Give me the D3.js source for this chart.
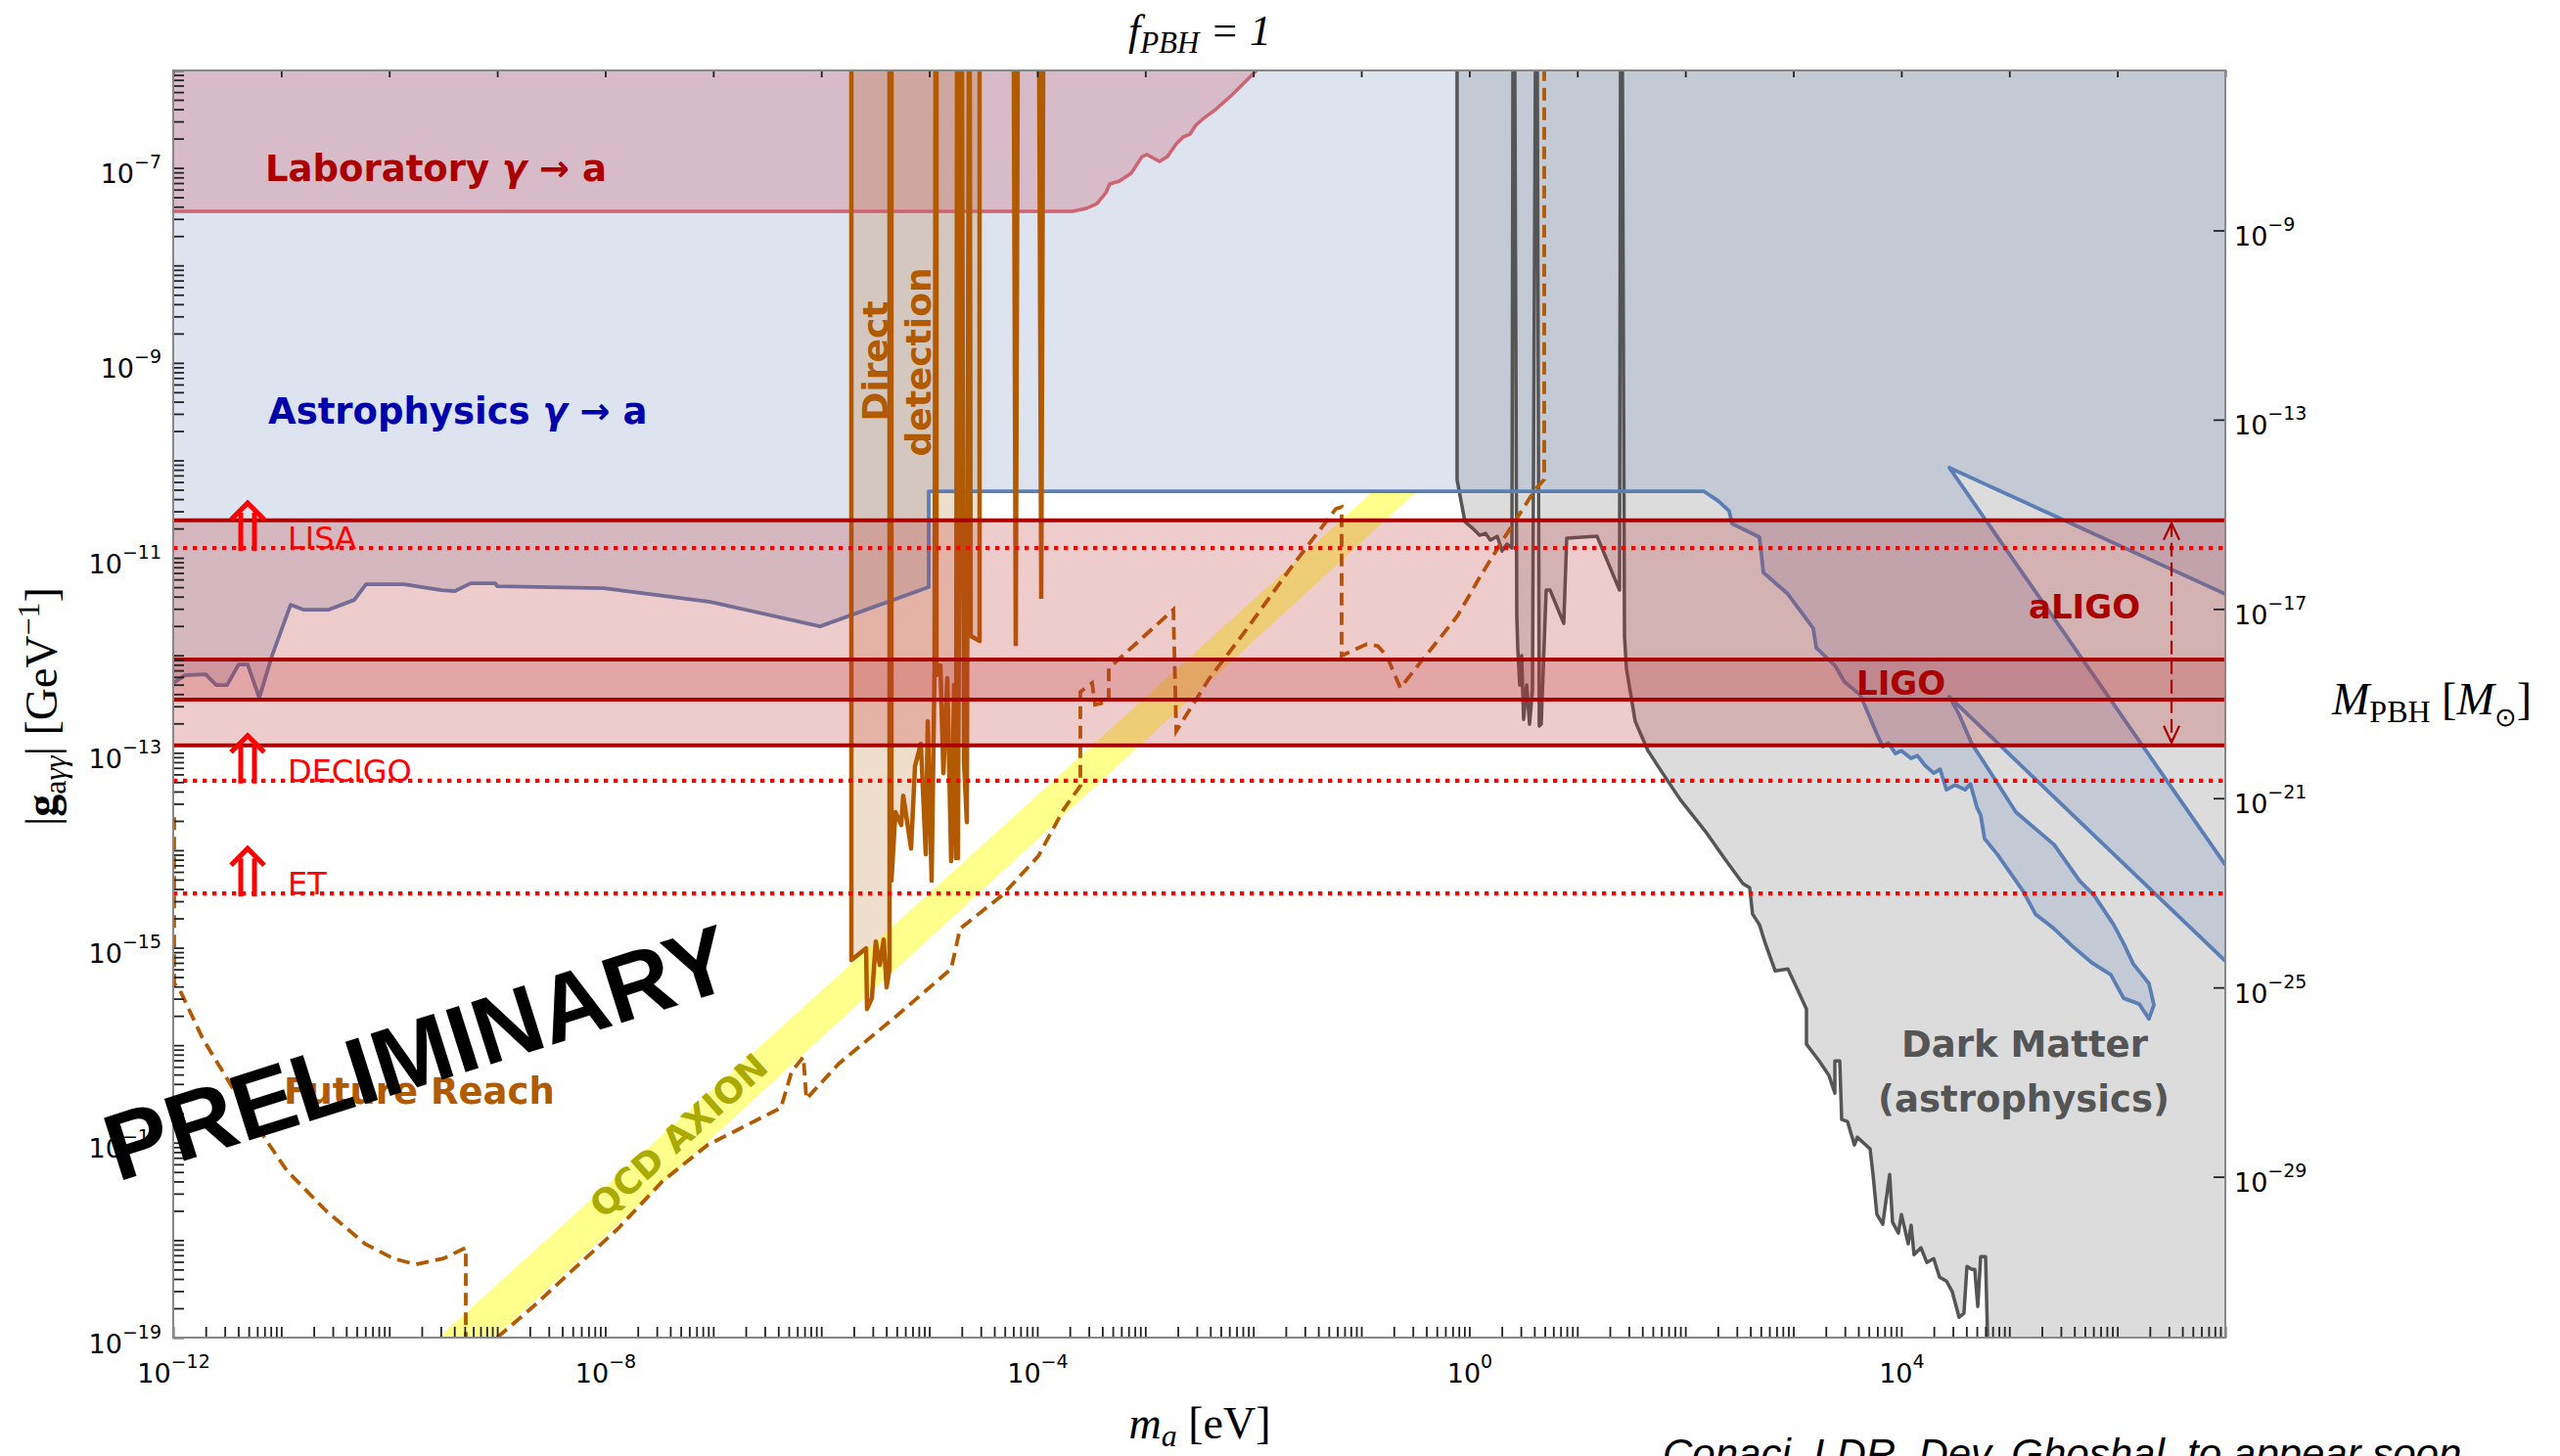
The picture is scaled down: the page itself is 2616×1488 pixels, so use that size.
<!DOCTYPE html>
<html>
<head>
<meta charset="utf-8">
<script src="https://cdn.jsdelivr.net/npm/d3@7"></script>
<style>
  html, body { margin: 0; padding: 0; background: #fff; }
  svg { display: block; }
</style>
</head>
<body>
<svg id="chart" width="2616" height="1488"></svg>
<script>
// All curve points are [log10(m_a / eV), log10(|g_ayy| / GeV^-1)].

// Astrophysical photon-axion bound (excluded above), left to right
const astroEdge = [
  [-12,-12.285],[-11.891,-12.205],[-11.701,-12.195],[-11.601,-12.305],[-11.502,-12.305],
  [-11.393,-12.094],[-11.311,-12.094],[-11.203,-12.436],[-11.085,-12.004],[-10.913,-11.482],
  [-10.795,-11.532],[-10.559,-11.532],[-10.324,-11.432],[-10.215,-11.271],[-9.862,-11.271],
  [-9.517,-11.331],[-9.391,-11.341],[-9.246,-11.261],[-9.019,-11.261],[-9.001,-11.291],
  [-8.013,-11.311],[-7.026,-11.452],[-6.011,-11.703],[-5.005,-11.301],[-5.005,-10.317],
  [2.171,-10.317],[2.307,-10.418],[2.406,-10.518],[2.433,-10.649],[2.687,-10.789],
  [2.723,-11.151],[2.950,-11.371],[3.185,-11.723],[3.213,-11.924],[3.385,-12.104],
  [3.475,-12.275],[3.620,-12.406],[3.774,-12.807],[3.829,-12.938],[3.880,-12.900],
  [3.946,-13.008],[4.000,-12.980],[4.091,-13.058],[4.150,-13.030],[4.220,-13.130],
  [4.300,-13.209],[4.360,-13.170],[4.418,-13.380],[4.500,-13.330],[4.590,-13.380],
  [4.640,-13.320],[4.700,-13.560],[4.735,-13.641],[4.771,-13.882],[4.889,-14.042],
  [5.124,-14.414],[5.242,-14.655],[5.414,-14.805],[5.586,-14.986],[5.768,-15.157],
  [5.940,-15.277],[6.058,-15.518],[6.203,-15.578],[6.293,-15.729],[6.339,-15.588],
  [6.293,-15.367],[6.148,-15.167],[6.058,-14.956],[5.967,-14.765],[5.786,-14.464],
  [5.650,-14.313],[5.414,-13.942],[5.061,-13.610],[4.771,-13.108],[4.653,-12.908],
  [4.535,-12.606],[4.445,-12.426],[7,-15.137]
];
// Allowed wedge inside the astrophysical bound: apex, then its two edges at the right border
const astroNotch = [[4.445,-10.076],[7,-11.371],[7,-14.15]];

// Laboratory bound (excluded above)
const labEdge = [
  [-12,-7.446],[-3.673,-7.446],[-3.547,-7.416],[-3.447,-7.365],[-3.365,-7.255],[-3.329,-7.165],
  [-3.239,-7.135],[-3.130,-7.054],[-3.030,-6.884],[-2.985,-6.863],[-2.867,-6.934],
  [-2.795,-6.884],[-2.713,-6.753],[-2.650,-6.683],[-2.586,-6.653],[-2.532,-6.562],
  [-2.450,-6.482],[-2.351,-6.402],[-2.197,-6.251],[-1.970,-6.0]
];

// Haloscope (direct detection) exclusion, closed along the top border
const ddEdge = [
  [-5.721,-6],[-5.721,-15.127],[-5.630,-15.046],[-5.585,-15.006],[-5.576,-15.629],
  [-5.531,-15.518],[-5.495,-14.936],[-5.458,-15.177],[-5.422,-14.916],[-5.395,-15.408],
  [-5.368,-15.217],[-5.368,-6],[-5.350,-6],[-5.350,-14.313],[-5.313,-13.610],
  [-5.259,-13.741],[-5.241,-13.440],[-5.168,-13.982],[-5.132,-13.139],[-5.078,-12.908],
  [-5.032,-14.042],[-5.014,-12.677],[-4.978,-14.313],[-4.951,-12.135],[-4.942,-6],
  [-4.933,-6],[-4.933,-12.205],[-4.897,-12.104],[-4.869,-13.209],[-4.833,-12.235],
  [-4.797,-14.112],[-4.770,-12.305],[-4.752,-14.082],[-4.743,-6],[-4.734,-6],
  [-4.734,-14.082],[-4.706,-6],[-4.697,-6],[-4.679,-13.078],[-4.652,-13.711],
  [-4.634,-6],[-4.625,-6],[-4.616,-11.803],[-4.534,-11.853],[-4.534,-6]
];
// Narrow haloscope exclusions further right
const ddSpikes = [
  [[-4.217,-6],[-4.199,-11.904],[-4.181,-6]],
  [[-3.982,-6],[-3.963,-11.422],[-3.945,-6]]
];

// Astrophysical dark-matter bound (excluded above/right)
const dmEdge = [
  [-0.113,-6],[-0.113,-10.197],[-0.085,-10.367],[-0.040,-10.629],[0.032,-10.699],
  [0.096,-10.769],[0.150,-10.749],[0.195,-10.819],[0.259,-10.779],[0.304,-10.930],
  [0.349,-10.859],[0.395,-10.900],[0.404,-6],[0.422,-6],[0.440,-11.602],[0.449,-11.934],
  [0.467,-12.305],[0.485,-12.004],[0.503,-12.657],[0.531,-12.305],[0.558,-12.707],
  [0.585,-12.355],[0.612,-6],[0.630,-6],[0.648,-12.727],[0.666,-12.707],[0.712,-11.331],
  [0.748,-11.331],[0.875,-11.673],[0.902,-10.799],[1.183,-10.779],[1.391,-11.331],
  [1.400,-6],[1.418,-6],[1.437,-11.803],[1.455,-12.135],[1.536,-12.677],[1.654,-12.978],
  [1.772,-13.179],[1.953,-13.480],[2.189,-13.811],[2.361,-14.082],[2.533,-14.343],
  [2.596,-14.384],[2.623,-14.655],[2.687,-14.765],[2.741,-14.956],[2.832,-15.237],
  [2.950,-15.217],[3.122,-15.629],[3.122,-15.990],[3.240,-16.161],[3.330,-16.311],
  [3.385,-16.492],[3.385,-16.161],[3.430,-16.161],[3.448,-16.763],[3.502,-16.783],
  [3.566,-17.024],[3.593,-16.944],[3.711,-17.064],[3.738,-17.325],[3.774,-17.737],
  [3.828,-17.837],[3.892,-17.325],[3.919,-17.817],[3.973,-17.928],[4.001,-17.737],
  [4.064,-18.038],[4.091,-17.847],[4.118,-18.149],[4.182,-18.078],[4.236,-18.229],
  [4.300,-18.189],[4.354,-18.380],[4.418,-18.420],[4.472,-18.530],[4.535,-18.791],
  [4.580,-18.751],[4.608,-18.269],[4.653,-18.299],[4.680,-18.299],[4.708,-18.681],
  [4.735,-18.169],[4.780,-18.169],[4.798,-18.982],[4.798,-19.5]
];

// Projected sensitivity of upcoming searches (two branches)
const futureLeft = [
  [-11.991,-13.661],[-11.991,-15.367],[-11.937,-15.438],[-11.728,-15.930],[-11.420,-16.492],
  [-11.157,-16.944],[-10.949,-17.285],[-10.587,-17.697],[-10.224,-18.038],[-9.961,-18.189],
  [-9.753,-18.249],[-9.499,-18.189],[-9.291,-18.078],[-9.291,-19]
];
const futureRight = [
  [-9.001,-19],[-8.666,-18.681],[-8.294,-18.299],[-7.887,-17.888],[-7.470,-17.396],
  [-7.053,-17.024],[-6.373,-16.643],[-6.274,-16.271],[-6.165,-16.120],[-6.138,-16.552],
  [-5.839,-16.191],[-5.313,-15.709],[-4.797,-15.217],[-4.715,-14.805],[-4.326,-14.464],
  [-3.991,-14.062],[-3.755,-13.580],[-3.601,-13.339],[-3.601,-12.376],[-3.492,-12.285],
  [-3.465,-12.506],[-3.338,-12.476],[-3.338,-12.135],[-3.239,-12.034],[-2.740,-11.532],
  [-2.713,-12.777],[-2.405,-12.235],[-2.088,-11.773],[-1.671,-11.131],[-1.236,-10.498],
  [-1.182,-10.478],[-1.182,-12.004],[-0.946,-11.884],[-0.847,-11.904],[-0.765,-12.004],
  [-0.638,-12.335],[-0.475,-12.104],[-0.113,-11.602],[0.096,-11.201],[0.304,-10.829],
  [0.612,-10.297],[0.694,-10.197],[0.694,-6]
];

// QCD axion band corners
const qcdBand = [[-9.545,-19],[-0.892,-10.317],[-0.484,-10.317],[-9.028,-19]];

// Gravitational-wave reach on |g| (log10), bands and future detectors
const bandNames  = ['aLIGO', 'LIGO'];
const bandTop    = [-10.615, -12.044];
const bandBottom = [-12.925, -12.456];
const detectorNames = ['LISA', 'DECIGO', 'ET'];
const detectorReach = [-10.900, -13.286, -14.444];

// Tick decades
const gLabelExps = [-19, -17, -15, -13, -11, -9, -7];
const mLabelExps = [-12, -8, -4, 0, 4];
const pbhLabelExps = [-29, -25, -21, -17, -13, -9];

// ---------------------------------------------------------------
const svg = d3.select('#chart');
const P = { x0: 177, x1: 2274, y0: 72, y1: 1367 };

const x = d3.scaleLog().domain([1e-12, 1e7]).range([P.x0, P.x1]);
const y = d3.scaleLog().domain([1e-19, 1e-6]).range([P.y1, P.y0]);
const yM = d3.scaleLog().domain([Math.pow(10, -32.40), Math.pow(10, -5.62)]).range([P.y1, P.y0]);

const px = d => x(Math.pow(10, d[0]));
const py = d => y(Math.pow(10, d[1]));
const line = d3.line().x(px).y(py);

svg.append('defs').append('clipPath').attr('id', 'plotClip')
  .append('rect').attr('x', P.x0).attr('y', P.y0)
  .attr('width', P.x1 - P.x0).attr('height', P.y1 - P.y0);

const g = svg.append('g').attr('clip-path', 'url(#plotClip)');

// Dark-matter region
g.append('path')
  .attr('d', line(dmEdge.concat([[7.2, -19.5], [7.2, -5.8], [-0.113, -5.8]])) + 'Z')
  .attr('fill', '#dcdcdc');

// Astrophysics region with its allowed wedge
g.append('path')
  .attr('d', line(astroEdge.concat([[7.2, -15.137], [7.2, -5.8], [-12.2, -5.8], [-12.2, -12.285]])) + 'Z' +
             line(astroNotch) + 'Z')
  .attr('fill', 'rgb(123,146,193)').attr('fill-opacity', 0.26)
  .attr('fill-rule', 'evenodd');

// Laboratory region
g.append('path')
  .attr('d', line(labEdge.concat([[-1.9, -5.8], [-12.2, -5.8], [-12.2, -7.446]])) + 'Z')
  .attr('fill', 'rgb(201,97,109)').attr('fill-opacity', 0.3);

// Direct detection region
g.append('path')
  .attr('d', line(ddEdge.concat([[-4.534, -5.8], [-5.721, -5.8]])) + 'Z')
  .attr('fill', 'rgb(178,90,0)').attr('fill-opacity', 0.2);

// QCD axion band
g.append('path').attr('d', line(qcdBand) + 'Z')
  .attr('fill', '#ffff00').attr('fill-opacity', 0.45);

// Boundary curves
g.append('path').attr('d', line(dmEdge))
  .attr('fill', 'none').attr('stroke', '#555').attr('stroke-width', 3.5).attr('stroke-linejoin', 'round');
g.append('path').attr('d', line(astroEdge))
  .attr('fill', 'none').attr('stroke', 'rgb(91,127,181)').attr('stroke-width', 3.8).attr('stroke-linejoin', 'round');
g.append('path').attr('d', line([astroNotch[1], astroNotch[0], astroNotch[2]]))
  .attr('fill', 'none').attr('stroke', 'rgb(91,127,181)').attr('stroke-width', 3.8).attr('stroke-linejoin', 'round');
g.append('path').attr('d', line(labEdge))
  .attr('fill', 'none').attr('stroke', 'rgb(205,100,115)').attr('stroke-width', 3.5);
g.append('path').attr('d', line(ddEdge))
  .attr('fill', 'none').attr('stroke', 'rgb(178,90,0)').attr('stroke-width', 4.5).attr('stroke-linejoin', 'round');
ddSpikes.forEach(s => g.append('path').attr('d', line(s))
  .attr('fill', 'none').attr('stroke', 'rgb(178,90,0)').attr('stroke-width', 4.5));

[futureLeft, futureRight].forEach(c => g.append('path').attr('d', line(c))
  .attr('fill', 'none').attr('stroke', 'rgb(178,90,0)').attr('stroke-width', 3.8)
  .attr('stroke-dasharray', '13,7'));

// Gravitational-wave bands
bandNames.forEach((n, i) => {
  const t = y(Math.pow(10, bandTop[i])), b = y(Math.pow(10, bandBottom[i]));
  g.append('rect').attr('x', P.x0).attr('y', t).attr('width', P.x1 - P.x0).attr('height', b - t)
    .attr('fill', 'rgb(190,50,50)').attr('fill-opacity', 0.25);
  [t, b].forEach(v => g.append('line').attr('x1', P.x0).attr('x2', P.x1).attr('y1', v).attr('y2', v)
    .attr('stroke', '#aa0000').attr('stroke-width', 4));
});

// Future detector reach
detectorNames.forEach((n, i) => {
  const v = y(Math.pow(10, detectorReach[i]));
  g.append('line').attr('x1', P.x0).attr('x2', P.x1).attr('y1', v).attr('y2', v)
    .attr('stroke', '#ff0000').attr('stroke-width', 4.2).attr('stroke-dasharray', '4.3,5.7');
  const cx = x(Math.pow(10, -11.311));
  const arrow = svg.append('g').attr('stroke', '#ff0000').attr('fill', 'none').attr('stroke-width', 5);
  arrow.append('path').attr('d', `M${cx - 17},${v - 29} L${cx},${v - 46} L${cx + 17},${v - 29}`);
  arrow.append('path').attr('d', `M${cx - 7},${v - 36} V${v + 3} M${cx + 7},${v - 36} V${v + 3}`);
  svg.append('text').attr('x', x(Math.pow(10, -10.94))).attr('y', v + 1)
    .attr('font-family', 'DejaVu Sans').attr('font-size', 32).attr('fill', '#ff0000').text(n);
});

// aLIGO span marker
{
  const ax = x(Math.pow(10, 6.502));
  const t = y(Math.pow(10, bandTop[0])), b = y(Math.pow(10, bandBottom[0]));
  const mk = svg.append('g').attr('stroke', '#aa0000').attr('fill', 'none').attr('stroke-width', 2.2);
  mk.append('line').attr('x1', ax).attr('x2', ax).attr('y1', t + 3).attr('y2', b - 3).attr('stroke-dasharray', '14,6');
  mk.append('path').attr('d', `M${ax - 8},${t + 20} L${ax},${t + 3} L${ax + 8},${t + 20}`);
  mk.append('path').attr('d', `M${ax - 8},${b - 20} L${ax},${b - 3} L${ax + 8},${b - 20}`);
}

// Region labels
const bold = (sel) => sel.attr('font-family', 'DejaVu Sans').attr('font-weight', 'bold');
function arrowLabel(txt, xx, yy, color) {
  const t = svg.append('text').attr('x', xx).attr('y', yy).attr('font-size', 37).attr('fill', color).call(bold);
  t.append('tspan').text(txt + ' ');
  t.append('tspan').attr('font-style', 'italic').text('γ');
  t.append('tspan').text(' → a');
}
arrowLabel('Laboratory', 271, 185, '#aa0000');
arrowLabel('Astrophysics', 274, 433, '#0000aa');

svg.append('text').attr('transform', 'translate(907,369) rotate(-90)').attr('text-anchor', 'middle')
  .attr('font-size', 36).attr('fill', 'rgb(178,90,0)').call(bold).text('Direct');
svg.append('text').attr('transform', 'translate(951,370) rotate(-90)').attr('text-anchor', 'middle')
  .attr('font-size', 36).attr('fill', 'rgb(178,90,0)').call(bold).text('detection');

svg.append('text').attr('x', 2073).attr('y', 632).attr('font-size', 34).attr('fill', '#aa0000').call(bold).text('aLIGO');
svg.append('text').attr('x', 1897).attr('y', 710).attr('font-size', 34).attr('fill', '#aa0000').call(bold).text('LIGO');

svg.append('text').attr('x', 2069).attr('y', 1080).attr('text-anchor', 'middle')
  .attr('font-size', 37).attr('fill', '#555').call(bold).text('Dark Matter');
svg.append('text').attr('x', 2068).attr('y', 1136).attr('text-anchor', 'middle')
  .attr('font-size', 37).attr('fill', '#555').call(bold).text('(astrophysics)');

svg.append('text').attr('x', 290).attr('y', 1128)
  .attr('font-size', 37).attr('fill', 'rgb(178,90,0)').call(bold).text('Future Reach');

svg.append('text').attr('transform', 'translate(702,1170) rotate(-42)').attr('text-anchor', 'middle')
  .attr('font-size', 36).attr('fill', '#aaaa00').call(bold).text('QCD AXION');

// Axes
const axG = svg.append('g');
const decadesX = d3.range(-12, 8);
const minorX = [];
d3.range(-12, 7).forEach(e => d3.range(1, 10).forEach(k => minorX.push(k * Math.pow(10, e))));
minorX.push(1e7);
const minorY = [];
d3.range(-19, -6).forEach(e => d3.range(1, 10).forEach(k => minorY.push(k * Math.pow(10, e))));
minorY.push(1e-6);

const tickStyle = s => { s.select('.domain').remove(); s.selectAll('.tick line').attr('stroke', '#222').attr('stroke-width', 1.8); };

axG.append('g').attr('transform', `translate(0,${P.y1})`)
  .call(d3.axisBottom(x).tickValues(minorX).tickSizeInner(-11).tickSizeOuter(0).tickFormat(''))
  .call(tickStyle);
axG.append('g').attr('transform', `translate(0,${P.y0})`)
  .call(d3.axisTop(x).tickValues(decadesX.map(e => Math.pow(10, e))).tickSizeInner(-7).tickSizeOuter(0).tickFormat(''))
  .call(tickStyle);
axG.append('g').attr('transform', `translate(${P.x0},0)`)
  .call(d3.axisLeft(y).tickValues(minorY).tickSizeInner(-11).tickSizeOuter(0).tickFormat(''))
  .call(tickStyle);
axG.append('g').attr('transform', `translate(${P.x1},0)`)
  .call(d3.axisRight(yM).tickValues(pbhLabelExps.map(e => Math.pow(10, e))).tickSizeInner(-12).tickSizeOuter(0).tickFormat(''))
  .call(tickStyle);

function powText(sel) {
  sel.each(function (d) {
    const e = Math.round(Math.log10(d));
    const t = d3.select(this).text(null);
    t.append('tspan').text('10');
    t.append('tspan').attr('dy', -15).attr('font-size', 19).text(e < 0 ? '\u2212' + (-e) : String(e));
  });
}
const labelStyle = s => {
  s.select('.domain').remove();
  s.selectAll('.tick line').remove();
  s.selectAll('.tick text').attr('font-family', 'DejaVu Sans').attr('font-size', 27).attr('fill', '#000');
};

axG.append('g').attr('transform', `translate(0,${P.y1})`)
  .call(d3.axisBottom(x).tickValues(mLabelExps.map(e => Math.pow(10, e))).tickSize(0))
  .call(labelStyle)
  .call(s => s.selectAll('.tick text').attr('y', 46).attr('dy', null).call(powText));
axG.append('g').attr('transform', `translate(${P.x0},0)`)
  .call(d3.axisLeft(y).tickValues(gLabelExps.map(e => Math.pow(10, e))).tickSize(0).tickPadding(12))
  .call(labelStyle)
  .call(s => s.selectAll('.tick text').attr('dy', 15).call(powText));
axG.append('g').attr('transform', `translate(${P.x1},0)`)
  .call(d3.axisRight(yM).tickValues(pbhLabelExps.map(e => Math.pow(10, e))).tickSize(0).tickPadding(9))
  .call(labelStyle)
  .call(s => s.selectAll('.tick text').attr('dy', 15).call(powText));

// Frame
svg.append('rect').attr('x', P.x0).attr('y', P.y0).attr('width', P.x1 - P.x0).attr('height', P.y1 - P.y0)
  .attr('fill', 'none').attr('stroke', '#888').attr('stroke-width', 2);

// Titles
const serif = 'Liberation Serif';
{
  const t = svg.append('text').attr('x', 1226).attr('y', 46).attr('text-anchor', 'middle')
    .attr('font-family', serif).attr('font-style', 'italic').attr('font-size', 44);
  t.append('tspan').text('f');
  t.append('tspan').attr('dy', 8).attr('font-size', 31).text('PBH');
  t.append('tspan').attr('dy', -8).text(' = 1');
}
{
  const t = svg.append('text').attr('x', 1226).attr('y', 1470).attr('text-anchor', 'middle')
    .attr('font-family', serif).attr('font-size', 46);
  t.append('tspan').attr('font-style', 'italic').text('m');
  t.append('tspan').attr('font-style', 'italic').attr('dy', 8).attr('font-size', 32).text('a');
  t.append('tspan').attr('dy', -8).text(' [eV]');
}
{
  const t = svg.append('text').attr('transform', 'translate(58,722) rotate(-90)').attr('text-anchor', 'middle')
    .attr('font-family', serif).attr('font-size', 46);
  t.append('tspan').text('|');
  t.append('tspan').attr('font-weight', 'bold').text('g');
  t.append('tspan').attr('dy', 9).attr('font-size', 32).text('a');
  t.append('tspan').attr('font-style', 'italic').attr('font-size', 32).text('γγ');
  t.append('tspan').attr('dy', -9).text('| [GeV');
  t.append('tspan').attr('dy', -18).attr('font-size', 32).text('\u22121');
  t.append('tspan').attr('dy', 18).text(']');
}
{
  const t = svg.append('text').attr('x', 2383).attr('y', 730)
    .attr('font-family', serif).attr('font-size', 46);
  t.append('tspan').attr('font-style', 'italic').text('M');
  t.append('tspan').attr('dy', 8).attr('font-size', 32).text('PBH');
  t.append('tspan').attr('dy', -8).text(' [');
  t.append('tspan').attr('font-style', 'italic').text('M');
  t.append('tspan').attr('dy', 12).attr('font-size', 27).text('\u2299');
  t.append('tspan').attr('dy', -12).text(']');
}

// Draft stamp and reference line
svg.append('text').attr('transform', 'translate(437,1108) rotate(-17.5)').attr('text-anchor', 'middle')
  .attr('font-family', 'Liberation Sans').attr('font-weight', 'bold').attr('font-size', 97)
  .attr('fill', '#000').text('PRELIMINARY');

svg.append('text').attr('x', 1699).attr('y', 1500)
  .attr('font-family', 'Liberation Sans').attr('font-style', 'italic').attr('font-size', 42)
  .attr('fill', '#000').text('Conaci, LDR, Dev, Ghoshal, to appear soon');
</script>
</body>
</html>
